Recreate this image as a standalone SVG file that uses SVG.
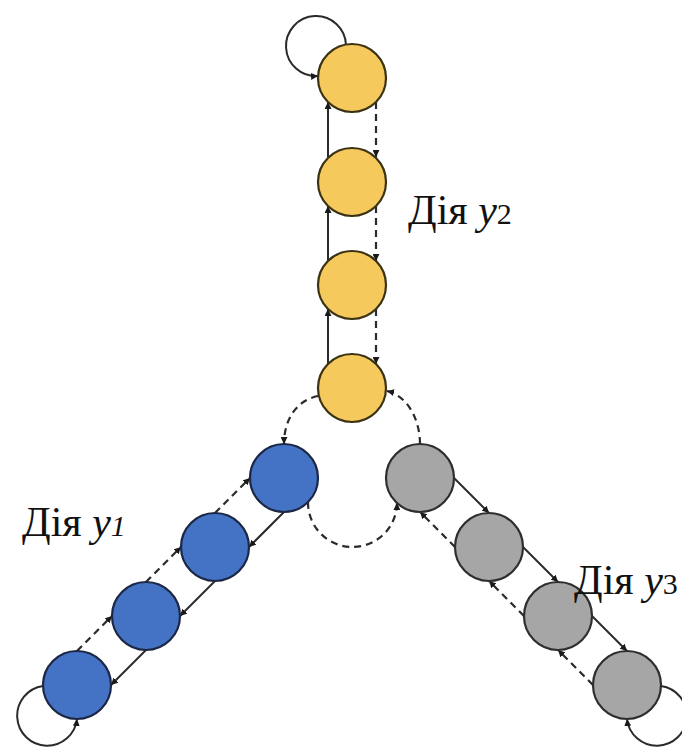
<svg xmlns="http://www.w3.org/2000/svg" width="682" height="747" viewBox="0 0 682 747">
<defs>
<marker id="ah" markerUnits="userSpaceOnUse" markerWidth="8" markerHeight="7" refX="7" refY="3.5" orient="auto">
<path d="M0,0 L7,3.5 L0,7 z" fill="#1a1a1a"/>
</marker>
</defs>
<style>
.y{fill:#F5C95C;stroke:#3b3214;stroke-width:2.2}
.b{fill:#4472C4;stroke:#1c2745;stroke-width:2.2}
.g{fill:#A6A6A6;stroke:#2e2e2e;stroke-width:2.2}
.s{fill:none;stroke:#2a2a2a;stroke-width:2;marker-end:url(#ah)}
.d{fill:none;stroke:#2a2a2a;stroke-width:2.2;stroke-dasharray:7 5;marker-end:url(#ah)}
.t{font-family:"Liberation Serif","Times New Roman",serif;font-size:42px;fill:#111}
</style>
<rect width="682" height="747" fill="#fff"/>
<g id="connectors">
<line class="s" x1="328" y1="157" x2="328" y2="102"/>
<line class="s" x1="328" y1="261" x2="328" y2="206"/>
<line class="s" x1="328" y1="364" x2="328" y2="309"/>
<line class="d" x1="376" y1="102" x2="376" y2="157"/>
<line class="d" x1="376" y1="206" x2="376" y2="261"/>
<line class="d" x1="376" y1="309" x2="376" y2="364"/>
<line class="s" x1="284" y1="512" x2="249" y2="547"/>
<line class="s" x1="215" y1="581" x2="180" y2="616"/>
<line class="s" x1="146" y1="650" x2="111" y2="685"/>
<line class="d" x1="215" y1="513" x2="250" y2="478"/>
<line class="d" x1="146" y1="582" x2="181" y2="547"/>
<line class="d" x1="77" y1="651" x2="112" y2="616"/>
<line class="s" x1="454" y1="478" x2="489" y2="513"/>
<line class="s" x1="523" y1="547" x2="558" y2="582"/>
<line class="s" x1="592" y1="616" x2="627" y2="651"/>
<line class="d" x1="455" y1="547" x2="420" y2="512"/>
<line class="d" x1="524" y1="616" x2="489" y2="581"/>
<line class="d" x1="593" y1="685" x2="558" y2="650"/>
<path class="d" d="M318,396 C298,400 284,418 284,444"/>
<path class="d" d="M420,444 C420,420 408,396 387,391"/>
<path class="d" d="M308,502 A44,44 0 0 0 397,503"/>
<path class="s" d="M346,45 A30,30 0 1 0 318,76"/>
<path class="s" d="M43,686 A30,30 0 1 0 77,719"/>
<path class="s" d="M661,686 A30,30 0 1 1 627,719"/>
</g>
<g id="y1n"><circle class="y" cx="352" cy="78" r="34"/></g>
<g id="y2n"><circle class="y" cx="352" cy="182" r="34"/></g>
<g id="y3n"><circle class="y" cx="352" cy="285" r="34"/></g>
<g id="y4n"><circle class="y" cx="352" cy="388" r="34"/></g>
<g id="b1n"><circle class="b" cx="284" cy="478" r="34"/></g>
<g id="b2n"><circle class="b" cx="215" cy="547" r="34"/></g>
<g id="b3n"><circle class="b" cx="146" cy="616" r="34"/></g>
<g id="b4n"><circle class="b" cx="77" cy="685" r="34"/></g>
<g id="g1n"><circle class="g" cx="420" cy="478" r="34"/></g>
<g id="g2n"><circle class="g" cx="489" cy="547" r="34"/></g>
<g id="g3n"><circle class="g" cx="558" cy="616" r="34"/></g>
<g id="g4n"><circle class="g" cx="627" cy="685" r="34"/></g>
<g id="labels">
<text class="t" x="408" y="224">Дія <tspan font-style="italic">y</tspan><tspan font-size="30">2</tspan></text>
<text class="t" x="22" y="536">Дія <tspan font-style="italic">y</tspan><tspan font-size="30" font-style="italic">1</tspan></text>
<text class="t" x="574" y="594">Дія <tspan font-style="italic">y</tspan><tspan font-size="30">3</tspan></text>
</g>
</svg>
